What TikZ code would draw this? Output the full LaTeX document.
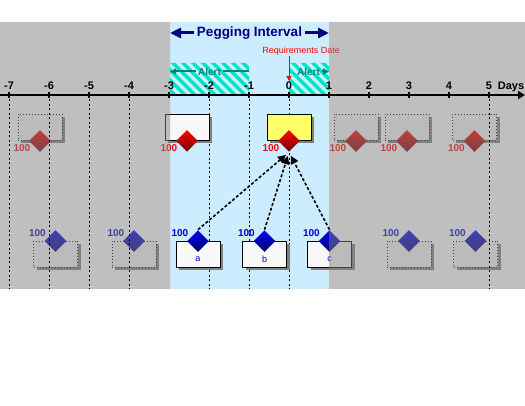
\documentclass[tikz,border=0pt]{standalone}
\usepackage{fontspec}
\setmainfont{Liberation Sans}
\usetikzlibrary{arrows.meta,shapes.geometric,shadows}

\definecolor{bandblue}{RGB}{204,236,255}
\definecolor{navyblue}{RGB}{0,0,128}
\definecolor{alertteal}{RGB}{0,128,128}
\definecolor{alertstripe}{RGB}{0,228,196}
\definecolor{boxyellow}{RGB}{255,255,102}
\definecolor{boxwhite}{RGB}{248,248,248}
\definecolor{qtyblue}{RGB}{0,0,200}

\begin{document}
\begin{tikzpicture}[x=1pt,y=-1pt,line width=0.8pt,>={Triangle[length=6pt,width=6pt]},
  box/.style={draw,fill=boxwhite,minimum width=44pt,minimum height=26pt,inner sep=0pt,
    drop shadow={shadow xshift=3pt,shadow yshift=-3pt,fill=black!50,opacity=1}},
  ghost/.style={box,dotted,line width=1pt},
  reqdia/.style={diamond,minimum size=22pt,inner sep=0pt,top color=red,bottom color=red!45!black},
  supdia/.style={diamond,minimum size=22pt,inner sep=0pt,top color=blue,bottom color=blue!40!black},
  reqqty/.style={red,font=\fontsize{10}{12}\selectfont\bfseries,inner sep=0pt,anchor=east},
  supqty/.style={qtyblue,font=\fontsize{10}{12}\selectfont\bfseries,inner sep=0pt,anchor=east},
  boxtxt/.style={qtyblue,font=\fontsize{9}{11}\selectfont,inner sep=0pt},
  dayline/.style={line width=1pt,dash pattern=on 2pt off 2.5pt},
  daylbl/.style={font=\fontsize{11}{13}\selectfont\bfseries,anchor=base,inner sep=0pt},
  alerttxt/.style={alertteal,font=\fontsize{10}{12}\selectfont\bfseries,inner sep=1.5pt},
  alertline/.style={alertteal,line width=2pt},
  pegline/.style={line width=1.6pt,dash pattern=on 3pt off 2pt,shorten >=4pt,
    -{Triangle[length=8pt,width=8pt]}}]
  \useasboundingbox (0,0) rectangle (525,406);

  % pegging band and alert zones
  \fill[bandblue] (170,22) rectangle (329,289);
  \begin{scope}
    \clip (170,63) rectangle (249,95) (289,63) rectangle (329,95);
    \foreach \s in {0,10,...,220}
      \draw[alertstripe,line width=3.5pt] (120+\s,50) -- ++(50,50);
  \end{scope}
  \foreach \d in {-2,-1,0}
    \draw[dayline] (289+40*\d,95) -- (289+40*\d,289);

  % requirements (top row)
  \foreach \x [count=\i] in {40,356,407,474.5}{
    \node[ghost] (gt\i) at (\x,127.5) {};
    \node[reqdia] (gtd\i) at (gt\i.south) {};
    \node[reqqty] (gtq\i) at ([xshift=2pt,yshift=-7pt]gtd\i.west) {100};
  }
  \node[box] (rw) at (187,127.5) {};
  \node[reqdia] (rwd) at (rw.south) {};
  \node[reqqty] (rwq) at ([xshift=2pt,yshift=-7pt]rwd.west) {100};
  \node[box,fill=boxyellow] (ry) at (289,127.5) {};
  \node[reqdia] (ryd) at (ry.south) {};
  \node[reqqty] (ryq) at ([xshift=2pt,yshift=-7pt]ryd.west) {100};

  % supplies (bottom row)
  \foreach \x [count=\i] in {55.5,134,409,475.5}{
    \node[ghost] (gb\i) at (\x,254.5) {};
    \node[supdia] (gbd\i) at (gb\i.north) {};
    \node[supqty] (gbq\i) at ([xshift=2pt,yshift=8pt]gbd\i.west) {100};
  }
  \node[box] (sa) at (198,254.5) {};
  \node[supdia] (sad) at (sa.north) {};
  \node[supqty] (saq) at ([xshift=2pt,yshift=8pt]sad.west) {100};
  \node[boxtxt] (sat) at ([yshift=-5pt]sa.center) {a};
  \node[box] (sb) at (264.5,254.5) {};
  \node[supdia] (sbd) at (sb.north) {};
  \node[supqty] (sbq) at ([xshift=2pt,yshift=8pt]sbd.west) {100};
  \node[boxtxt] (sbt) at ([yshift=-5pt]sb.center) {b};
  \node[box] (sc) at (329.5,254.5) {};
  \node[supdia] (scd) at (sc.north) {};
  \node[supqty] (scq) at ([xshift=2pt,yshift=8pt]scd.west) {100};
  \node[boxtxt] (sct) at ([yshift=-5pt]sc.center) {c};

  \node[red,font=\fontsize{9}{11}\selectfont,anchor=base west,inner sep=0pt] (reqlbl) at (262,53.5) {Requirements Date};

  % outside the pegging interval
  \fill[black!50,opacity=.5] (0,22) rectangle (170,289) (329,22) rectangle (525,289);
  \foreach \d in {-7,-6,-5,-4,5}
    \draw[dayline] (289+40*\d,95) -- (289+40*\d,289);

  % time axis
  \coordinate (ax0) at (0,95);
  \coordinate (ax1) at (525,95);
  \draw[line width=2pt,-{Triangle[length=7pt,width=8pt]}] (ax0) -- (ax1);
  \foreach \d in {-7,...,5}{
    \draw[line width=2pt] (289+40*\d,92) -- (289+40*\d,98);
    \node[daylbl] (n\d) at (289+40*\d,90) {\d};
  }
  \node[daylbl] (days) at (511,90) {Days};

  \coordinate (pgL) at (170,33);
  \coordinate (pgR) at (329,33);
  \draw[navyblue,line width=3pt,{Triangle[length=11pt,width=10pt]}-{Triangle[length=11pt,width=10pt]}]
    (pgL) -- (pgR) node[midway,fill=bandblue,text=navyblue,inner sep=3pt,
    font=\fontsize{13.5}{16}\selectfont\bfseries] (pglbl) {Pegging Interval};

  \node[alerttxt] (alA) at (209.5,71.5) {Alert};
  \coordinate (alAL) at (170,71.5);
  \coordinate (alAR) at (249,71.5);
  \draw[alertline,->] (alA) -- (alAL);
  \draw[alertline] (alA) -- (alAR);
  \node[alerttxt] (alB) at (308.5,71.5) {Alert};
  \coordinate (alBR) at (329,71.5);
  \draw[alertline,->] (alB) -- (alBR);

  \coordinate (reqtip) at (289,81);
  \draw[red,line width=1pt,-{Triangle[length=5pt,width=5pt]}] (reqlbl.south -| reqtip) -- (reqtip);

  % pegging links
  \draw[pegline] (sad.north) -- (ryd.south);
  \draw[pegline] (sbd.north) -- (ryd.south);
  \draw[pegline] (scd.north) -- (ryd.south);
\end{tikzpicture}
\end{document}
